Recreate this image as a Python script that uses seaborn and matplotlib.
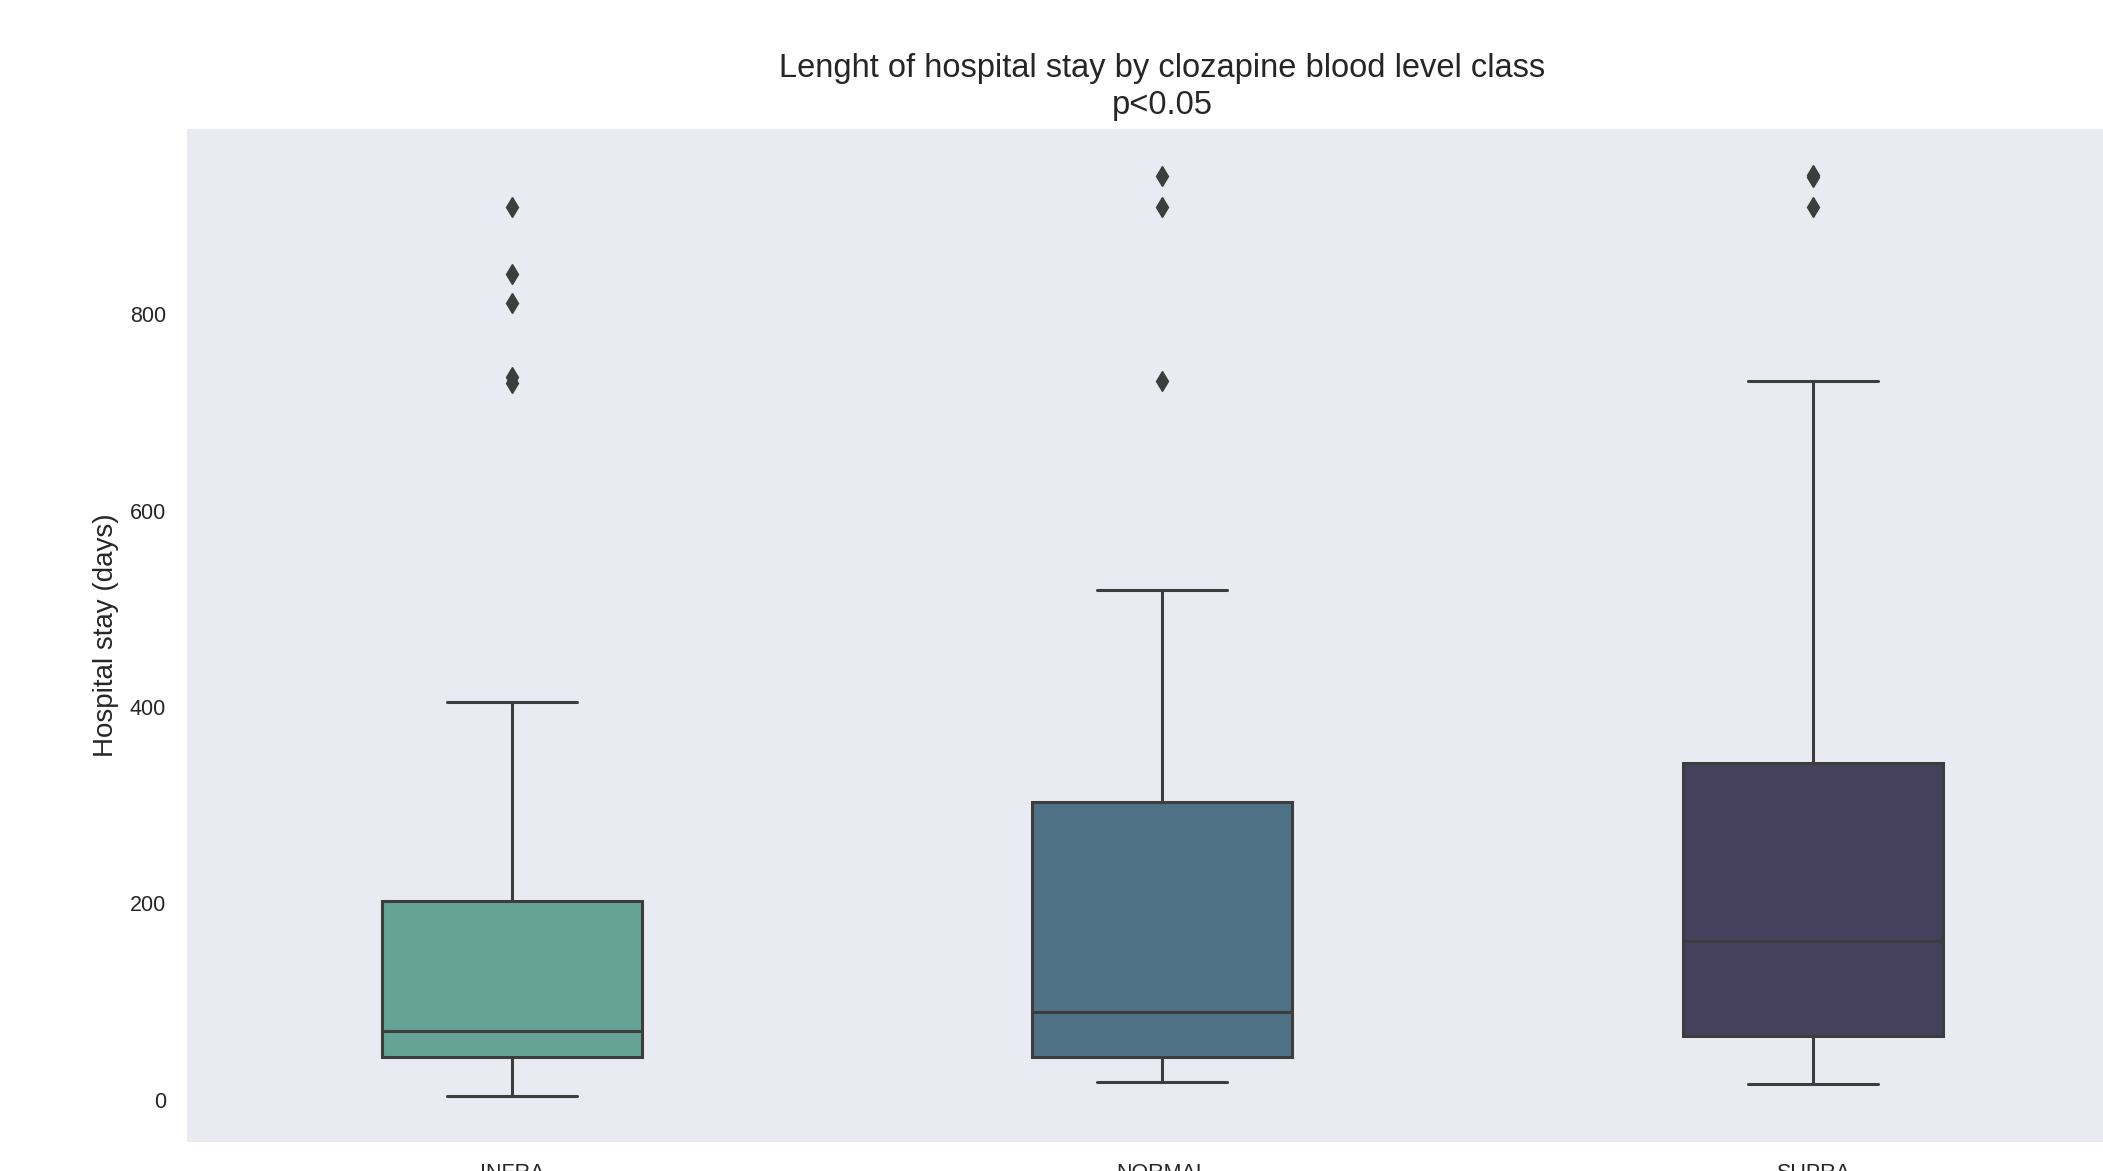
import pandas as pd
import seaborn as sns
import matplotlib.pyplot as plt

# Box summaries (days)
levels = ["INFRA", "NORMAL", "SUPRA"]
whisker_low = [4, 18, 16]
q1 = [44, 44, 65]
median = [70, 89, 162]
q3 = [203, 303, 343]
whisker_high = [405, 519, 732]
outliers = [[730, 736, 812, 841, 909], [732, 909, 941], [909, 940, 942]]
colors = ["#66a397", "#4f7185", "#45405b"]

# Build a sample per class whose quartiles / whiskers / fliers match the summaries
rows = []
for i, lev in enumerate(levels):
    k = 1 + len(outliers[i])
    vals = [whisker_low[i]] + [q1[i]] * k + [median[i]] * k + [q3[i]] * k
    vals += [whisker_high[i]] + outliers[i]
    rows += [(lev, v) for v in vals]
df = pd.DataFrame(rows, columns=["level", "stay"])

sns.set_style("dark")
plt.rcParams['font.family'] = ['Liberation Sans', 'DejaVu Sans']

fig = plt.figure(figsize=(21.03, 11.71), dpi=100)
ax = fig.add_axes([0.0889, 0.0248, 0.9277, 0.8651])
sns.boxplot(x="level", y="stay", hue="level", data=df, order=levels,
            palette=colors, saturation=1, width=0.4, linewidth=2.2,
            linecolor="#3d3d3d", legend=False, ax=ax,
            flierprops={"marker": "d", "markersize": 10,
                        "markerfacecolor": "#3d3d3d", "markeredgecolor": "#3d3d3d"})
ax.set_title("Lenght of hospital stay by clozapine blood level class\np<0.05",
             fontsize=23.5, color="#262626", pad=11, linespacing=1.22)
ax.set_ylabel("Hospital stay (days)", fontsize=20, labelpad=8)
ax.set_xlabel("")
ax.set_yticks([0, 200, 400, 600, 800])
ax.tick_params(axis="both", labelsize=15.5, length=0, pad=15)
for s in ax.spines.values():
    s.set_visible(False)

fig.savefig("out.png", dpi=100)
